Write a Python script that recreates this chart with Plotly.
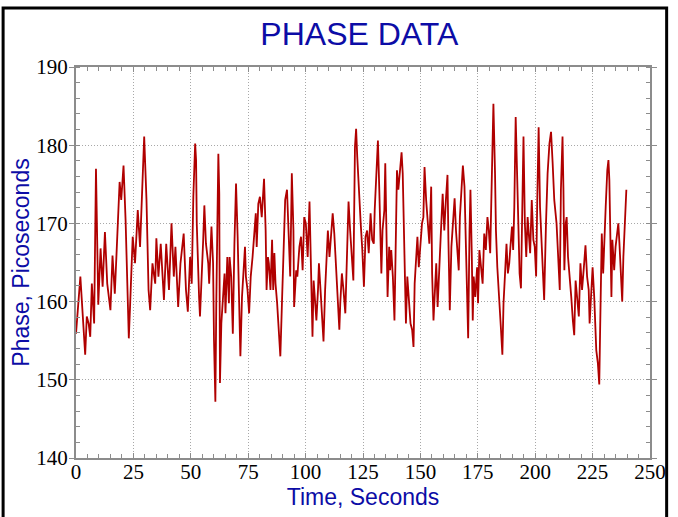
import plotly.graph_objects as go

time_s = [0.0, 1.9, 4.0, 4.7, 5.5, 6.2, 6.9, 7.9, 8.7, 9.7, 10.7, 11.6, 12.6, 13.6, 15.0, 15.9, 16.9, 18.3, 19.0, 19.7,
          20.7, 21.6, 23.0, 23.6, 24.7, 25.7, 26.9, 27.9, 28.7, 29.7, 30.7, 31.6, 32.3, 33.3, 34.5, 35.0, 35.9, 36.9, 38.3, 39.3,
          40.5, 41.6, 42.6, 43.3, 44.5, 45.5, 46.9, 47.9, 48.7, 49.7, 50.4, 51.1, 51.9, 52.3, 52.6, 53.0, 53.6, 54.0, 54.7, 55.4,
          55.9, 56.6, 57.6, 58.0, 59.0, 59.7, 60.1, 60.7, 61.1, 61.6, 62.0, 62.4, 62.7, 63.3, 64.0, 64.7, 65.1, 65.9, 66.6, 66.9,
          67.6, 68.3, 69.0, 69.7, 70.4, 71.1, 71.6, 72.3, 73.0, 73.6, 74.0, 74.7, 75.4, 76.1, 76.9, 77.6, 78.3, 78.7, 79.4, 80.1,
          80.9, 81.9, 82.6, 83.0, 83.6, 84.0, 84.7, 85.4, 85.9, 86.4, 86.9, 87.6, 88.3, 89.0, 89.7, 90.4, 91.1, 91.9, 92.6, 93.3,
          94.0, 94.7, 95.0, 95.9, 96.4, 97.3, 98.0, 98.7, 99.4, 100.1, 100.9, 101.7, 102.4, 103.0, 103.5, 104.3, 104.7, 105.4, 105.8, 106.5,
          107.3, 107.8, 108.5, 109.3, 109.7, 110.4, 111.1, 111.8, 112.5, 113.3, 114.0, 114.7, 115.1, 115.8, 116.5, 117.3, 118.0, 118.7, 119.4, 120.1,
          120.8, 121.5, 122.0, 122.5, 123.3, 124.0, 124.7, 125.4, 126.1, 126.8, 127.5, 128.3, 129.0, 129.7, 130.1, 130.7, 131.5, 132.1, 132.5, 133.0,
          133.5, 134.3, 134.7, 135.1, 135.7, 136.4, 136.8, 137.3, 138.0, 138.7, 139.3, 139.8, 140.4, 141.1, 141.8, 142.3, 142.8, 143.3, 143.7, 144.3,
          145.0, 145.7, 146.4, 147.0, 147.5, 148.3, 148.7, 149.3, 149.8, 150.7, 151.3, 151.8, 152.5, 153.2, 153.9, 154.7, 155.1, 155.7, 156.4, 156.9,
          157.5, 158.2, 158.9, 159.7, 160.4, 161.1, 161.8, 162.2, 162.8, 163.5, 164.2, 164.9, 165.5, 166.1, 166.7, 167.2, 167.8, 168.5, 169.2, 169.9,
          170.4, 170.8, 171.4, 171.8, 172.4, 172.8, 173.2, 173.9, 174.7, 175.1, 175.7, 176.4, 177.1, 177.8, 178.5, 179.2, 179.8, 180.4, 181.1, 181.8,
          182.5, 182.9, 183.5, 184.4, 185.1, 185.7, 186.2, 186.8, 187.5, 188.1, 188.7, 189.2, 189.9, 190.4, 190.9, 191.5, 192.1, 192.7, 193.2, 193.8,
          194.4, 194.9, 195.5, 196.1, 196.7, 197.2, 197.8, 198.5, 199.2, 199.8, 200.4, 200.9, 201.5, 202.1, 202.7, 203.2, 203.9, 204.7, 205.4, 206.2,
          206.9, 207.6, 208.3, 209.3, 210.2, 210.7, 211.2, 211.6, 211.9, 212.3, 212.7, 213.3, 213.7, 214.3, 215.0, 215.7, 216.4, 217.0, 217.6, 218.3,
          219.0, 219.7, 220.4, 221.2, 221.9, 222.6, 223.3, 223.7, 224.3, 225.0, 225.7, 226.6, 227.3, 227.9, 228.3, 228.7, 229.0, 229.6, 230.2, 230.7,
          231.4, 231.9, 232.3, 232.7, 233.2, 233.6, 234.0, 234.4, 235.0, 235.6, 236.2, 236.7, 237.3, 237.9, 238.4, 239.0, 239.7]

phase_ps = [155.9, 163.2, 153.2, 158.1, 157.2, 155.5, 162.3, 157.2, 177.0, 159.6, 166.8, 161.9, 168.9, 162.3, 158.9, 165.9, 161.0, 171.7, 175.3, 173.0,
            177.4, 170.4, 155.3, 159.8, 168.3, 164.9, 171.7, 167.0, 173.0, 181.1, 173.0, 161.5, 158.9, 164.9, 162.3, 168.1, 163.2, 167.4, 160.2, 167.4,
            161.5, 170.0, 163.2, 167.0, 159.3, 164.9, 168.7, 161.5, 158.7, 165.7, 162.3, 173.4, 180.2, 178.1, 170.0, 164.9, 160.6, 158.1, 162.3, 167.9,
            172.3, 167.4, 164.9, 162.3, 169.6, 164.9, 155.1, 147.2, 159.8, 174.7, 178.9, 173.8, 149.6, 157.2, 161.0, 163.6, 158.5, 165.7, 159.8, 165.7,
            163.2, 155.9, 167.4, 175.1, 168.3, 157.2, 153.0, 160.6, 164.4, 167.0, 163.2, 161.5, 158.5, 163.2, 165.7, 169.1, 171.3, 167.0, 172.5, 173.4,
            170.8, 175.7, 169.1, 161.5, 165.7, 164.9, 161.5, 167.9, 161.5, 166.2, 162.3, 159.8, 156.4, 153.0, 159.8, 165.7, 173.0, 174.3, 169.1, 163.2,
            176.4, 169.1, 159.3, 164.0, 163.2, 167.0, 168.3, 164.0, 170.8, 170.0, 165.7, 172.8, 163.6, 155.5, 162.7, 159.8, 157.6, 161.5, 164.9, 161.5,
            157.2, 154.9, 161.5, 167.0, 169.1, 165.7, 168.3, 171.3, 168.7, 163.6, 159.8, 156.4, 159.8, 163.6, 161.5, 158.5, 165.7, 172.8, 169.1, 165.7,
            162.7, 179.8, 182.1, 178.5, 173.4, 170.0, 166.6, 161.9, 168.3, 169.1, 166.2, 171.3, 167.9, 167.4, 171.7, 176.4, 180.6, 174.3, 167.0, 163.6,
            169.1, 171.7, 177.7, 169.1, 160.6, 167.0, 164.0, 166.6, 163.2, 157.6, 170.0, 176.8, 174.3, 177.2, 179.1, 176.4, 170.8, 164.0, 157.2, 163.2,
            160.6, 157.2, 156.4, 154.2, 162.3, 166.6, 168.3, 164.4, 166.6, 170.0, 170.8, 177.2, 173.0, 170.0, 167.4, 174.7, 163.6, 157.6, 162.3, 164.9,
            159.3, 163.2, 168.7, 173.8, 169.1, 173.0, 176.2, 167.9, 158.9, 167.0, 170.0, 173.2, 169.1, 165.7, 164.0, 170.8, 174.3, 177.4, 174.7, 167.4,
            161.5, 155.3, 169.1, 174.3, 165.7, 157.6, 163.2, 160.6, 164.4, 159.8, 166.6, 164.0, 162.3, 168.7, 166.6, 170.8, 169.1, 166.2, 174.3, 185.3,
            176.4, 169.1, 164.4, 160.6, 156.4, 153.2, 159.8, 163.2, 167.4, 163.6, 164.9, 167.0, 169.6, 166.6, 172.1, 183.6, 176.4, 165.7, 163.6, 161.7,
            170.8, 181.1, 170.0, 165.7, 170.8, 168.7, 166.2, 173.0, 167.9, 167.0, 163.2, 173.0, 182.3, 172.1, 167.4, 164.0, 160.2, 170.0, 176.4, 180.2,
            181.7, 177.7, 173.0, 170.0, 164.0, 161.5, 174.3, 178.9, 181.1, 174.3, 164.0, 170.0, 170.8, 165.7, 163.6, 160.6, 157.6, 155.7, 162.7, 160.6,
            158.1, 164.9, 161.5, 164.4, 167.2, 163.2, 161.5, 157.2, 161.5, 164.4, 160.6, 153.8, 152.1, 149.4, 156.8, 164.9, 168.7, 163.6, 170.0, 172.1,
            176.8, 178.1, 175.5, 167.9, 160.6, 167.9, 165.7, 164.0, 167.0, 168.7, 170.0, 167.4, 162.7, 160.0, 165.7, 170.0, 174.3]

blue = "#0c0ca6"
axis_gray = "#8c8c8c"

fig = go.Figure()
fig.add_trace(go.Scatter(x=time_s, y=phase_ps, mode="lines",
                         line=dict(color="#b00000", width=1.8), showlegend=False))

common_axis = dict(
    showline=True, linecolor=axis_gray, linewidth=2, mirror="allticks",
    tickcolor=axis_gray, tickwidth=1,
    showgrid=True, gridcolor="#a8a8a8", griddash="1px,2px", gridwidth=1,
    zeroline=False,
    tickfont=dict(family="Liberation Serif", size=21, color="black"),
)

fig.update_xaxes(range=[0, 250], dtick=25, tick0=0, ticks="inside", ticklen=5,
                 minor=dict(dtick=5, ticks="inside", ticklen=4, tickcolor=axis_gray, showgrid=False),
                 title=dict(text="Time, Seconds", font=dict(family="Liberation Sans", size=23, color=blue), standoff=0),
                 ticklabelstandoff=-6,
                 **common_axis)
fig.update_yaxes(range=[140, 190], dtick=10, tick0=140, ticks="outside", ticklen=5,
                 minor=dict(dtick=2, ticks="inside", ticklen=4, tickcolor=axis_gray, showgrid=False),
                 title=dict(text="Phase, Picoseconds", font=dict(family="Liberation Sans", size=23, color=blue), standoff=0),
                 ticklabelstandoff=-3,
                 **common_axis)

fig.update_layout(
    width=678, height=517,
    margin=dict(l=76, r=19, t=67, b=59),
    paper_bgcolor="white", plot_bgcolor="white",
    title=dict(text="PHASE DATA", x=0.53, xanchor="center", y=0.934, yanchor="middle",
               font=dict(family="Liberation Sans", size=32, color=blue)),
    shapes=[dict(type="rect", xref="paper", yref="paper", x0=-0.127, x1=1.029, y0=-0.2, y1=1.151,
                 line=dict(color="black", width=3), fillcolor="rgba(0,0,0,0)", layer="above")],
)

fig.write_html("out.html")
